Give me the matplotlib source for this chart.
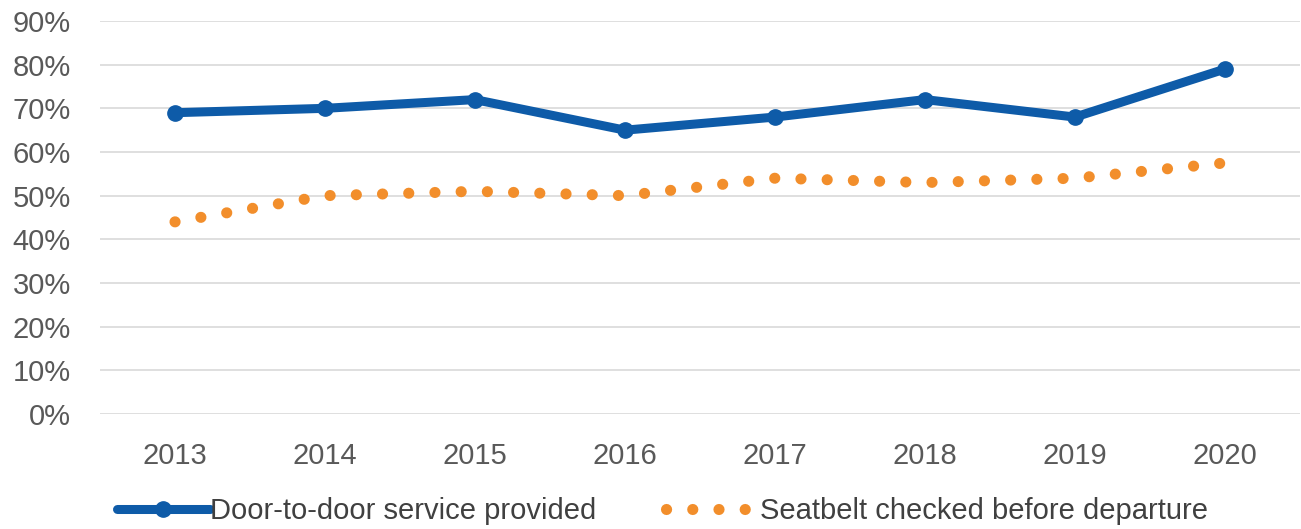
import matplotlib
matplotlib.use("Agg")
import matplotlib.pyplot as plt
from matplotlib.ticker import PercentFormatter

years = ["2013", "2014", "2015", "2016", "2017", "2018", "2019", "2020"]
door_to_door = [69, 70, 72, 65, 68, 72, 68, 79]
seatbelt = [44, 50, 51, 50, 54, 53, 54, 57.5]
y_ticks = [0, 10, 20, 30, 40, 50, 60, 70, 80, 90]

plt.rcParams['font.family'] = ['Liberation Sans', 'DejaVu Sans']

fig = plt.figure(figsize=(13.01, 5.29), dpi=100)
ax = fig.add_axes([100 / 1301, 1 - 414 / 529, 1200 / 1301, (414 - 21) / 529])

x = list(range(len(years)))
ax.plot(x, door_to_door, color="#0E5BA8", linewidth=6.5, marker="o",
        markersize=11, solid_capstyle="round", label="Door-to-door service provided", zorder=3)
ax.plot(x, seatbelt, color="#F28E2B", linewidth=8, linestyle=(0, (0.01, 2.35)),
        dash_capstyle="round", label="Seatbelt checked before departure", zorder=2)

ax.set_xlim(-0.5, len(years) - 0.5)
ax.set_ylim(0, 90)
ax.set_yticks(y_ticks)
ax.yaxis.set_major_formatter(PercentFormatter(decimals=0))
ax.set_xticks(x)
ax.set_xticklabels(years)
ax.grid(axis="y", color="#D9D9D9", linewidth=1.2)
ax.set_axisbelow(True)
for s in ax.spines.values():
    s.set_visible(False)
ax.tick_params(axis="both", length=0, labelsize=21, labelcolor="#595959")
ax.tick_params(axis="y", pad=21)
ax.tick_params(axis="x", pad=20)

ax.legend(loc="lower center", bbox_to_anchor=(0.4685, -0.35), ncol=2, frameon=False,
          fontsize=21, handlelength=3.2, columnspacing=2.4, handletextpad=0.0,
          labelcolor="#404040")

plt.savefig("out.png", dpi=100)
